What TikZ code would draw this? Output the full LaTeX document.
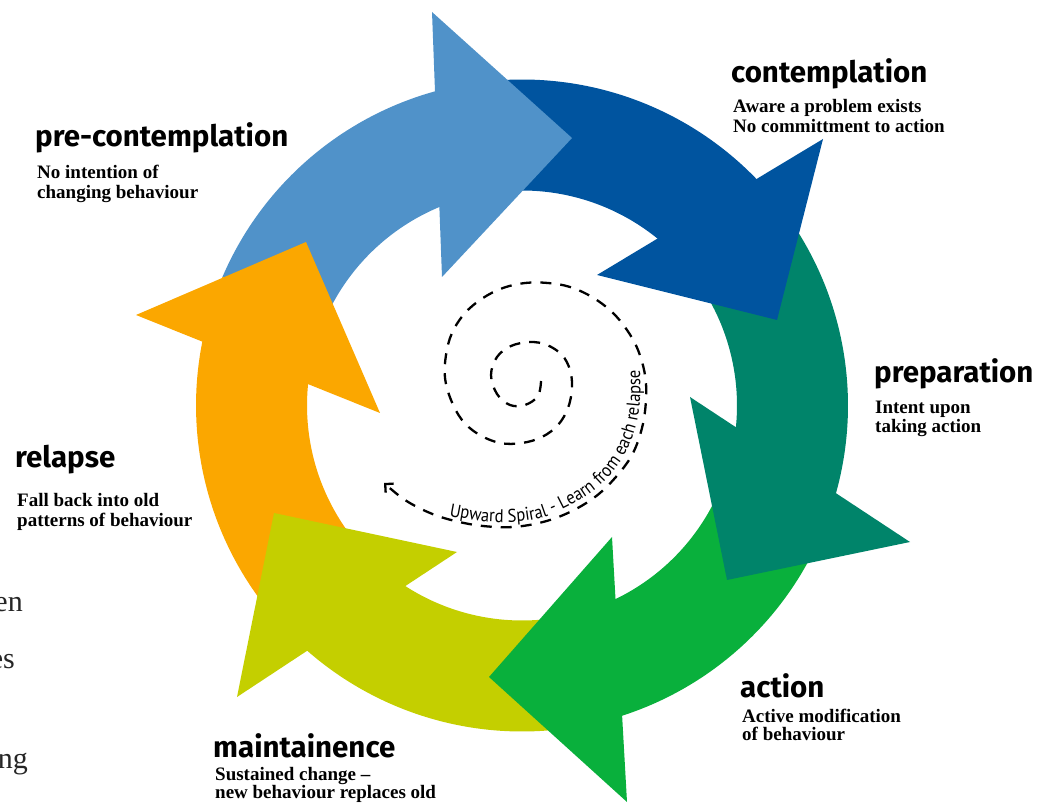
\documentclass[tikz,border=0pt]{standalone}
\usepackage{fontspec}
\usetikzlibrary{calc,decorations.text,arrows.meta}
\newfontfamily\headfont{Fira Sans}
\newfontfamily\descfont{Liberation Serif}
\newfontfamily\spiralfont{PT Sans}[FakeStretch=0.9]
\definecolor{cLB}{RGB}{80,146,201}
\definecolor{cDB}{RGB}{0,84,159}
\definecolor{cTE}{RGB}{0,132,106}
\definecolor{cGR}{RGB}{9,176,60}
\definecolor{cLI}{RGB}{196,207,0}
\definecolor{cOR}{RGB}{251,167,0}
\begin{document}
\begin{tikzpicture}[x=1pt,y=1pt,
  stage/.style={anchor=base west, inner sep=0pt, font=\headfont\bfseries\fontsize{29.5}{34}\selectfont, text=black},
  desc/.style={anchor=base west, inner sep=0pt, font=\descfont\bfseries\fontsize{19}{22}\selectfont, text=black},
  cut/.style={anchor=base east, inner sep=0pt, font=\descfont\fontsize{30}{34}\selectfont, text=black!85},
  spiralline/.style={dash pattern=on 11pt off 9pt, line width=2.3pt, black}
]
\useasboundingbox (0,0) rectangle (1054,803);
\coordinate (C) at (522,397.5);
\def\Ro{326pt}\def\Ri{215pt}
% arrow bodies (ring sectors), each ends hidden under its own head
\foreach \aone/\atwo/\col in {156.8/93.8/cLB, 93.8/32.8/cDB, 32.8/-26.2/cTE, -26.2/-83.2/cGR, -83.2/-142.4/cLI, -142.4/-203.2/cOR}{
  \fill[\col] ($(C)+(\aone:\Ro)$) arc[start angle=\aone, end angle=\atwo, radius=\Ro]
     -- ($(C)+(\atwo:\Ri)$) arc[start angle=\atwo, end angle=\aone, radius=\Ri] -- cycle;
}
% arrow heads (drawn over the next arrow's body)
\fill[cLB] (432,791) -- (572,665) -- (442,526) -- cycle;
\fill[cDB] (823,664) -- (777,483) -- (597,528) -- cycle;
\fill[cTE] (910,261) -- (727,223) -- (690,406) -- cycle;
\fill[cGR] (627,1) -- (489,126) -- (612,266) -- cycle;
\fill[cLI] (237,106) -- (274,290) -- (457,251) -- cycle;
\fill[cOR] (136,488) -- (306,561) -- (380,390) -- cycle;
% spiral
\draw[spiralline, -{Straight Barb[length=6pt,width=12pt]}] plot[smooth, tension=0.6] coordinates {
 (541,422) (538,407) (525,398) (510,398) (497,409) (491,428) (497,446) (511,457) (530,461) (547,458)
 (562,448) (570,433) (572,415) (568,395) (558,378) (542,366) (522,360) (500,360) (478,369) (462,383)
 (451,403) (445,425) (446,448) (452,470) (465,490) (483,505) (503,515) (525,520) (548,520) (570,516)
 (592,506) (612,491) (627,473) (638,453) (645,428) (646,403) (642,375) (632,348) (615,325) (595,306)
 (570,291) (543,281) (513,276) (483,277) (455,282) (430,290) (405,303) (384,320)};
\path[decorate, decoration={text along path, text align=left,
  text={|\spiralfont\fontsize{18.5}{20}\selectfont|Upward Spiral - Learn from each relapse}}]
  plot[smooth, tension=0.6] coordinates {(449,287) (480,282) (513,281) (541,285) (567,296) (592,311) (611,329) (626,351) (636,377) (640,403) (640,431) (637,455) (632,475)};
% stage titles
\node[stage] (pre) at (35,656) {pre-contemplation};
\node[desc] (pre1) at (37,624) {No intention of};
\node[desc] (pre2) at (37,604) {changing behaviour};
\node[stage] (con) at (731,720) {contemplation};
\node[desc] (con1) at (733,690) {Aware a problem exists};
\node[desc] (con2) at (733,670) {No committment to action};
\node[stage] (prep) at (874,420) {preparation};
\node[desc] (prep1) at (875,389) {Intent upon};
\node[desc] (prep2) at (875,370) {taking action};
\node[stage] (act) at (740,106) {action};
\node[desc] (act1) at (742,81) {Active modification};
\node[desc] (act2) at (742,63) {of behaviour};
\node[stage] (main) at (213,46) {maintainence};
\node[desc] (main1) at (215,23) {Sustained change –};
\node[desc] (main2) at (215,5) {new behaviour replaces old};
\node[stage] (rel) at (15,335) {relapse};
\node[desc] (rel1) at (17,296) {Fall back into old};
\node[desc] (rel2) at (17,276) {patterns of behaviour};
% cut-off text at left edge
\node[cut] (e1) at (23,191) {en};
\node[cut] (e2) at (15,134) {es};
\node[cut] (e3) at (28,35) {ing};
\end{tikzpicture}
\end{document}
